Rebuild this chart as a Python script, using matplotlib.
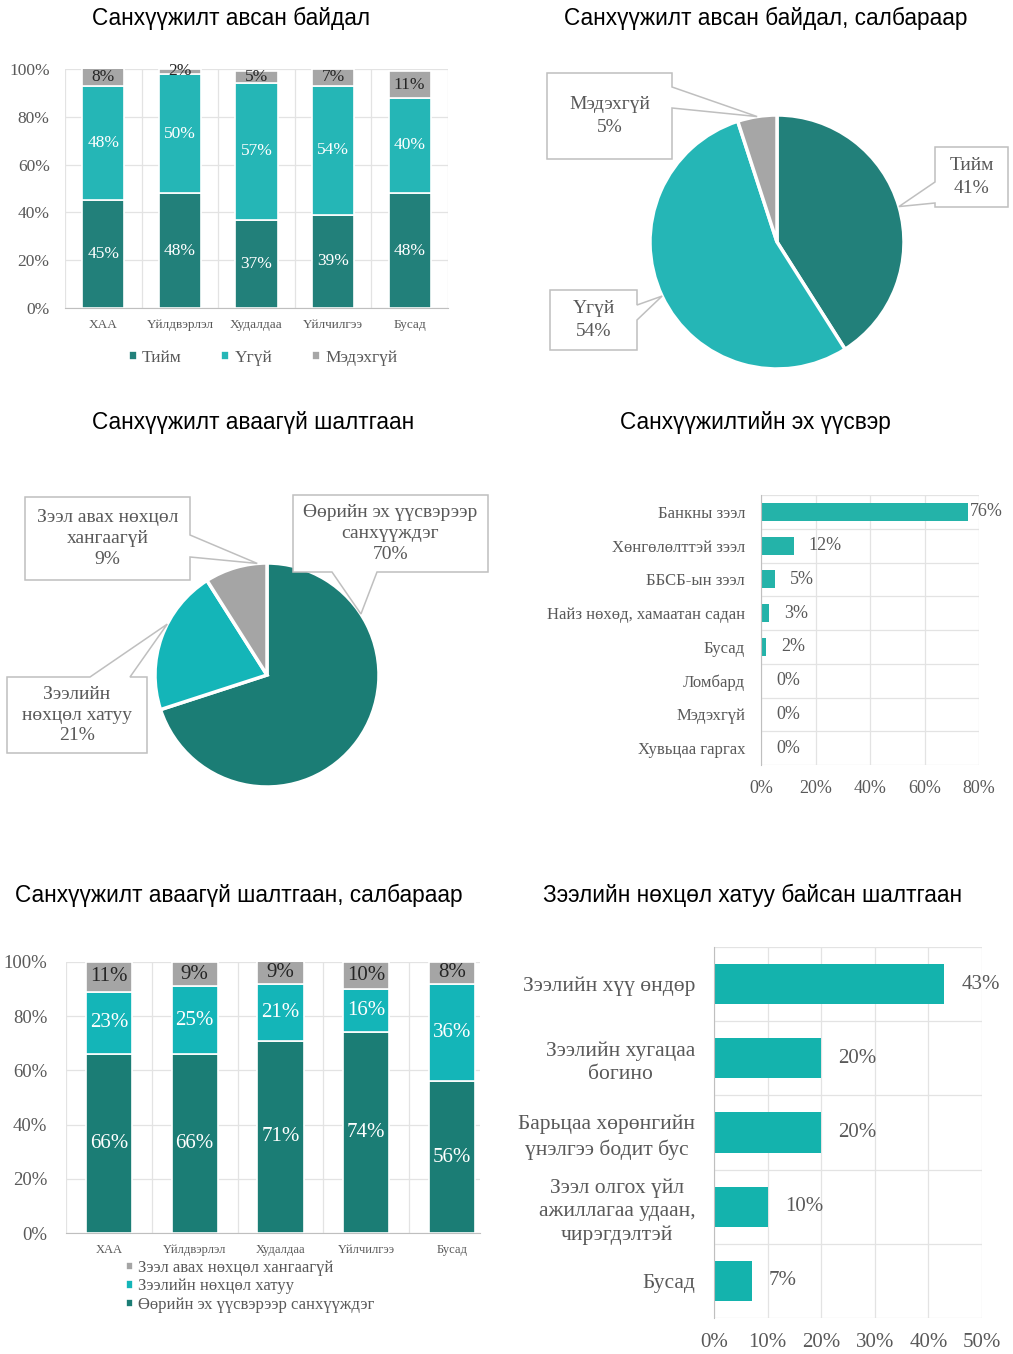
import numpy as np
import matplotlib
matplotlib.use('Agg')
import matplotlib.pyplot as plt
from matplotlib.patches import Polygon
from matplotlib.ticker import FuncFormatter, MultipleLocator

# --- data ---
sectors = ['ХАА', 'Үйлдвэрлэл', 'Худалдаа', 'Үйлчилгээ', 'Бусад']

# financing received, by sector
got_yes = [45, 48, 37, 39, 48]
got_no = [48, 50, 57, 54, 40]
got_unknown = [8, 2, 5, 7, 11]
got_names = ['Тийм', 'Үгүй', 'Мэдэхгүй']

# financing received, overall
got_total = [41, 54, 5]

# reasons for not taking financing, overall
reason_names = ['Өөрийн эх үүсвэрээр\nсанхүүждэг', 'Зээлийн\nнөхцөл хатуу',
                'Зээл авах нөхцөл\nхангаагүй']
reason_total = [70, 21, 9]

# source of financing
source_labels = ['Банкны зээл', 'Хөнгөлөлттэй зээл', 'ББСБ-ын зээл',
                 'Найз нөхөд, хамаатан садан', 'Бусад', 'Ломбард',
                 'Мэдэхгүй', 'Хувьцаа гаргах']
source_values = [76, 12, 5, 3, 2, 0, 0, 0]

# reasons for not taking financing, by sector
own_funds = [66, 66, 71, 74, 56]
hard_terms = [23, 25, 21, 16, 36]
not_eligible = [11, 9, 9, 10, 8]
reason_legend = ['Өөрийн эх үүсвэрээр санхүүждэг', 'Зээлийн нөхцөл хатуу',
                 'Зээл авах нөхцөл хангаагүй']

# why loan terms were too hard
hard_labels = ['Зээлийн хүү өндөр', 'Зээлийн хугацаа\nбогино',
               'Барьцаа хөрөнгийн\nүнэлгээ бодит бус',
               'Зээл олгох үйл\nажиллагаа удаан,\nчирэгдэлтэй', 'Бусад']
hard_values = [43, 20, 20, 10, 7]

# --- style ---
W, H = 1013, 1354
SERIF = 'Liberation Serif'
SANS = 'Liberation Sans'
GREY = '#595959'
GRID = '#e3e3e3'
EDGE = '#bfbfbf'

fig = plt.figure(figsize=(W / 100, H / 100), dpi=100)
pct = FuncFormatter(lambda v, p: f'{v:.0f}%')


def px_axes(x0, y0, x1, y1):
    return fig.add_axes([x0 / W, 1 - y1 / H, (x1 - x0) / W, (y1 - y0) / H])


def title(x, y, s):
    fig.text(x / W, 1 - y / H, s, ha='center', va='center', fontsize=16.3,
             family=SANS, color='black')


def stacked(ax, series, colors, text_colors, names, fs_y, fs_x, fs_lab,
            ypad, xpad, width=0.55):
    x = np.arange(len(sectors))
    bottom = np.zeros(len(sectors))
    conts = []
    for vals, c, tc, name in zip(series, colors, text_colors, names):
        bars = ax.bar(x, vals, width, bottom=bottom, color=c,
                      edgecolor='white', linewidth=1.2, label=name, zorder=2)
        ax.bar_label(bars, labels=[f'{v}%' for v in vals], label_type='center',
                     color=tc, fontsize=fs_lab, family=SERIF)
        bottom += np.array(vals)
        conts.append(bars)
    ax.set_ylim(0, 100)
    ax.yaxis.set_major_locator(MultipleLocator(20))
    ax.yaxis.set_major_formatter(pct)
    ax.set_xticks(x, sectors)
    ax.set_xticks(np.arange(-0.5, len(sectors)), minor=True)
    ax.grid(False)
    ax.grid(axis='y', which='major', color=GRID, lw=0.9)
    ax.grid(axis='x', which='minor', color=GRID, lw=0.9)
    ax.set_axisbelow(True)
    ax.tick_params(which='both', length=0)
    ax.tick_params(axis='y', labelsize=fs_y, labelcolor=GREY, pad=ypad)
    ax.tick_params(axis='x', labelsize=fs_x, labelcolor=GREY, pad=xpad)
    for lab in ax.get_xticklabels() + ax.get_yticklabels():
        lab.set_family(SERIF)
    for sp in ax.spines.values():
        sp.set_visible(False)
    ax.spines['bottom'].set_visible(True)
    ax.spines['bottom'].set_color(EDGE)
    return conts


def hbars(ax, labels, values, color, xmax, step, height, fs_cat, fs_tick,
          fs_val, ypad, xpad, val_pad, max_pad=None):
    y = np.arange(len(labels))
    ax.barh(y, values, height, color=color, zorder=2)
    ax.set_ylim(len(labels) - 0.5, -0.5)
    ax.set_xlim(0, xmax)
    ax.set_yticks(y, labels)
    ax.set_yticks(np.arange(-0.5, len(labels)), minor=True)
    ax.xaxis.set_major_locator(MultipleLocator(step))
    ax.xaxis.set_major_formatter(pct)
    ax.grid(False)
    ax.grid(axis='x', which='major', color=GRID, lw=0.9)
    ax.grid(axis='y', which='minor', color=GRID, lw=0.9)
    ax.set_axisbelow(True)
    ax.tick_params(which='both', length=0)
    ax.tick_params(axis='y', labelsize=fs_cat, labelcolor=GREY, pad=ypad)
    ax.tick_params(axis='x', labelsize=fs_tick, labelcolor=GREY, pad=xpad)
    for lab in ax.get_yticklabels():
        lab.set_family(SERIF)
        lab.set_multialignment('center')
        lab.set_linespacing(1.3)
    for lab in ax.get_xticklabels():
        lab.set_family(SERIF)
    for sp in ax.spines.values():
        sp.set_visible(False)
    ax.spines['left'].set_visible(True)
    ax.spines['left'].set_color(EDGE)
    top = max(values)
    for i, v in enumerate(values):
        pad = max_pad if (max_pad is not None and v == top) else val_pad
        ax.annotate(f'{v}%', xy=(v, i), xytext=(pad, 0), textcoords='offset points',
                    ha='left', va='center', fontsize=fs_val, color=GREY,
                    family=SERIF, annotation_clip=False)


def pie_chart(box, center, radius, values, colors, names, callouts, fs, lsp):
    x0, y0, x1, y1 = box
    cx, cy = center
    ax = px_axes(*box)
    wedges, _ = ax.pie(values, colors=colors, startangle=90, counterclock=False,
                       radius=1, wedgeprops=dict(edgecolor='white', linewidth=2.5))
    ax.set_xlim((x0 - cx) / radius, (x1 - cx) / radius)
    ax.set_ylim((cy - y1) / radius, (cy - y0) / radius)
    ax.set_aspect('auto')

    def d(p):
        return ((p[0] - cx) / radius, (cy - p[1]) / radius)

    for w, v, name, co in zip(wedges, values, names, callouts):
        (bx0, by0, bx1, by1), side, b1, b2, ang = co
        if ang is None:
            ang = (w.theta1 + w.theta2) / 2
        tip = (cx + radius * np.cos(np.radians(ang)),
               cy - radius * np.sin(np.radians(ang)))
        if side == 'right':
            pts = [(bx0, by0), (bx1, by0), (bx1, b1), tip, (bx1, b2), (bx1, by1), (bx0, by1)]
        elif side == 'left':
            pts = [(bx0, by0), (bx1, by0), (bx1, by1), (bx0, by1), (bx0, b2), tip, (bx0, b1)]
        elif side == 'top':
            pts = [(bx0, by0), (b1, by0), tip, (b2, by0), (bx1, by0), (bx1, by1), (bx0, by1)]
        else:
            pts = [(bx0, by0), (bx1, by0), (bx1, by1), (b2, by1), tip, (b1, by1), (bx0, by1)]
        ax.add_patch(Polygon([d(p) for p in pts], closed=True, facecolor='white',
                             edgecolor=EDGE, lw=1.1, zorder=3))
        ax.text(*d(((bx0 + bx1) / 2, (by0 + by1) / 2)), f'{name}\n{v}%',
                ha='center', va='center', multialignment='center', fontsize=fs,
                color=GREY, family=SERIF, linespacing=lsp, zorder=4)
    return ax


DARK1, CYAN1, GRAY1 = '#22807a', '#25b6b6', '#a6a6a6'
DARK2, CYAN2, GRAY2 = '#1b7d75', '#14b5b8', '#a5a5a5'

# 1. financing received by sector
title(231, 18, 'Санхүүжилт авсан байдал')
ax1 = px_axes(65, 69, 448, 308)
conts = stacked(ax1, [got_yes, got_no, got_unknown], [DARK1, CYAN1, GRAY1],
                ['white', 'white', '#262626'], got_names,
                fs_y=12.5, fs_x=9.5, fs_lab=12.5, ypad=11, xpad=8)
fig.legend(conts, got_names, loc='center', bbox_to_anchor=(263 / W, 1 - 358 / H),
           ncol=3, frameon=False, prop=dict(family=SERIF, size=12.5),
           labelcolor=GREY, handlelength=0.45, handleheight=0.45,
           handletextpad=0.3, columnspacing=2.3)

# 2. financing received, overall
title(766, 18, 'Санхүүжилт авсан байдал, салбараар')
pie_chart((530, 60, 1013, 380), (777, 242), 127, got_total,
          [DARK1, CYAN1, GRAY1], got_names,
          [((935, 147, 1008, 207), 'left', 182, 203, None),
           ((550, 290, 637, 350), 'right', 305, 320, None),
           ((547, 73, 672, 159), 'right', 87, 108, None)], fs=14, lsp=1.45)

# 3. reasons for not taking financing
title(253, 423, 'Санхүүжилт аваагүй шалтгаан')
pie_chart((0, 480, 500, 800), (267, 675), 112, reason_total,
          [DARK2, CYAN2, GRAY2], reason_names,
          [((293, 495, 488, 572), 'bottom', 332, 377, 33),
           ((7, 677, 147, 753), 'top', 90, 130, 153),
           ((25, 497, 190, 580), 'right', 535, 557, 95)], fs=14, lsp=1.3)

# 4. source of financing
title(755, 423, 'Санхүүжилтийн эх үүсвэр')
ax4 = px_axes(761, 495, 979, 765)
hbars(ax4, source_labels, source_values, '#24b3a9', 80, 20, 0.53,
      fs_cat=12, fs_tick=13, fs_val=13, ypad=11.5, xpad=11,
      val_pad=10.8, max_pad=1.5)

# 5. reasons by sector
title(239, 895, 'Санхүүжилт аваагүй шалтгаан, салбараар')
ax5 = px_axes(66, 962, 480, 1233)
conts5 = stacked(ax5, [own_funds, hard_terms, not_eligible], [DARK2, CYAN2, GRAY2],
                 ['white', 'white', '#262626'], reason_legend,
                 fs_y=13.5, fs_x=9, fs_lab=15, ypad=13.5, xpad=8, width=0.54)
ax5.set_xlim(-0.5, 4.5 - 15 / 85.7)
fig.legend(conts5[::-1], reason_legend[::-1], loc='upper left',
           bbox_to_anchor=(126 / W, 1 - 1260 / H), ncol=1, frameon=False,
           prop=dict(family=SERIF, size=12), labelcolor=GREY,
           handlelength=0.4, handleheight=0.4, handletextpad=0.35,
           labelspacing=0.15, borderpad=0, borderaxespad=0)

# 6. why loan terms were too hard
title(753, 895, 'Зээлийн нөхцөл хатуу байсан шалтгаан')
ax6 = px_axes(714, 947, 982, 1318)
hbars(ax6, hard_labels, hard_values, '#14b3ad', 50, 10, 0.54,
      fs_cat=15.5, fs_tick=15, fs_val=15, ypad=13.5, xpad=11, val_pad=12.5)

fig.savefig('out.png', dpi=100, facecolor='white')
